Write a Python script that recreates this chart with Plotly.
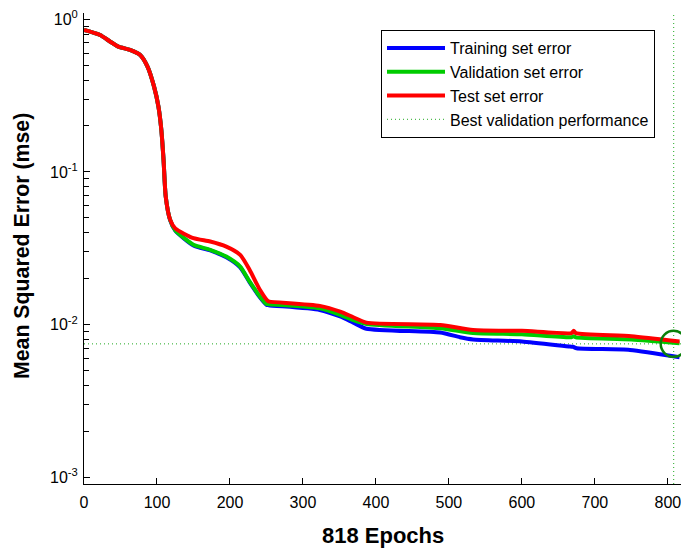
import plotly.graph_objects as go

# ---------------- data ----------------
train_epochs = [0, 22, 36, 47, 63, 77, 87, 96, 102, 106, 109, 112, 118, 125, 150, 173, 195, 214, 227, 241, 250, 253,
                323, 351, 369, 387, 488, 515, 533, 600, 666, 670, 675, 748, 816]
train_mse = [0.851, 0.789, 0.713, 0.662, 0.630, 0.584, 0.49, 0.362, 0.268, 0.188, 0.120, 0.0689, 0.0483, 0.0413,
             0.0330, 0.0306, 0.0276, 0.0237, 0.0189, 0.0151, 0.0135, 0.0134,
             0.01248, 0.0113, 0.0103, 0.0094, 0.00887, 0.00827, 0.0080, 0.00775, 0.00718, 0.00716, 0.0070, 0.00683, 0.00612]

val_epochs = [0, 22, 36, 47, 63, 77, 87, 96, 102, 106, 109, 112, 118, 125, 150, 173, 195, 214, 227, 241, 250, 253,
              323, 351, 369, 387, 488, 533, 600, 668, 671, 674, 750, 816]
val_mse = [0.851, 0.789, 0.713, 0.662, 0.630, 0.584, 0.49, 0.362, 0.268, 0.188, 0.120, 0.0689, 0.0485, 0.0415,
           0.0333, 0.0309, 0.0279, 0.0240, 0.0191, 0.0153, 0.01365, 0.0136,
           0.0128, 0.0116, 0.0107, 0.0101, 0.00946, 0.0088, 0.00865, 0.00827, 0.0084, 0.00825, 0.0080, 0.00755]

test_epochs = [0, 22, 36, 47, 63, 77, 87, 96, 102, 106, 109, 112, 118, 125, 150, 173, 195, 214, 227, 241, 252, 254,
               323, 351, 369, 387, 488, 533, 600, 668, 671, 674, 750, 816]
test_mse = [0.851, 0.789, 0.713, 0.662, 0.630, 0.584, 0.49, 0.362, 0.268, 0.188, 0.120, 0.0689, 0.0487, 0.0427,
            0.0368, 0.0350, 0.0324, 0.0286, 0.0228, 0.0169, 0.01425, 0.01415,
            0.01327, 0.01217, 0.01117, 0.0103, 0.00995, 0.00923, 0.0091, 0.0088, 0.0091, 0.0088, 0.0084, 0.00774]

best_epoch = 808
best_perf = 0.00748
total_epochs = 818

x_ticks = [0, 100, 200, 300, 400, 500, 600, 700, 800]
y_ticks = [1e-3, 1e-2, 1e-1, 1e0]
y_tick_text = ["10<sup>-3</sup>", "10<sup>-2</sup>", "10<sup>-1</sup>", "10<sup>0</sup>"]

# ---------------- figure ----------------
FONT = "Liberation Sans, Arial, sans-serif"
fig = go.Figure()

fig.add_trace(go.Scatter(x=train_epochs, y=train_mse, mode="lines", name="Training set error",
                         line=dict(color="#0000FF", width=4, shape="spline", smoothing=0.6)))
fig.add_trace(go.Scatter(x=val_epochs, y=val_mse, mode="lines", name="Validation set error",
                         line=dict(color="#00CC00", width=4, shape="spline", smoothing=0.6)))
fig.add_trace(go.Scatter(x=test_epochs, y=test_mse, mode="lines", name="Test set error",
                         line=dict(color="#FF0000", width=4, shape="spline", smoothing=0.6)))
# legend entry for best validation performance
fig.add_trace(go.Scatter(x=[None], y=[None], mode="lines", name="Best validation performance",
                         line=dict(color="#22AA22", width=1, dash="1px,3px")))

fig.add_hline(y=best_perf, line=dict(color="#22AA22", width=1, dash="1px,3px"), layer="below")
fig.add_vline(x=best_epoch, line=dict(color="#22AA22", width=1, dash="1px,3px"), layer="below")

fig.add_trace(go.Scatter(x=[best_epoch], y=[best_perf], mode="markers", showlegend=False,
                         marker=dict(symbol="circle-open", size=26, color="#0A800A",
                                     line=dict(width=2.5, color="#0A800A")),
                         cliponaxis=False))

minor_vals = [m * 10 ** e for e in (-3, -2, -1) for m in range(2, 10)]

fig.update_layout(
    width=681, height=548,
    margin=dict(l=84, r=0, t=13, b=64, autoexpand=False),
    paper_bgcolor="white", plot_bgcolor="white",
    font=dict(family=FONT, size=16, color="black"),
    showlegend=True,
    legend=dict(x=(381 - 84) / 597, y=(484 - 30) / 471, xanchor="left", yanchor="top",
                bgcolor="white", bordercolor="black", borderwidth=1,
                font=dict(family=FONT, size=16, color="black"),
                itemwidth=58, tracegroupgap=0),
    xaxis=dict(range=[0, total_epochs], tickmode="array", tickvals=x_ticks,
               ticks="inside", ticklen=6, tickcolor="black", tickwidth=1,
               showline=True, linecolor="black", linewidth=1, mirror=False,
               showgrid=False, zeroline=False, automargin=False, ticklabelstandoff=4,
               ticklabeloverflow="allow",
               tickfont=dict(family=FONT, size=16, color="black")),
    yaxis=dict(type="log", range=[-3.044, 0.041], tickmode="array", tickvals=y_ticks,
               ticktext=y_tick_text,
               ticks="inside", ticklen=6, tickcolor="black", tickwidth=1,
               showline=True, linecolor="black", linewidth=1, mirror=False,
               showgrid=False, zeroline=False, automargin=False, ticklabelstandoff=2,
               ticklabeloverflow="allow",
               minor=dict(tickvals=minor_vals, ticks="inside", ticklen=5, tickcolor="black", showgrid=False),
               tickfont=dict(family=FONT, size=16, color="black")),
    annotations=[
        dict(text="<b>818 Epochs</b>", xref="paper", yref="paper", x=0.5, y=-(535 - 484) / 471,
             xanchor="center", yanchor="middle", showarrow=False,
             font=dict(family=FONT, size=22, color="black")),
        dict(text="<b>Mean Squared Error (mse)</b>", xref="paper", yref="paper",
             x=(22 - 84) / 597, y=(484 - 246) / 471, textangle=-90,
             xanchor="center", yanchor="middle", showarrow=False,
             font=dict(family=FONT, size=21.3, color="black")),
    ],
)

fig.write_html("out.html", config={"displayModeBar": False},
               post_script="document.body.style.margin='0';document.body.style.overflow='hidden';")
